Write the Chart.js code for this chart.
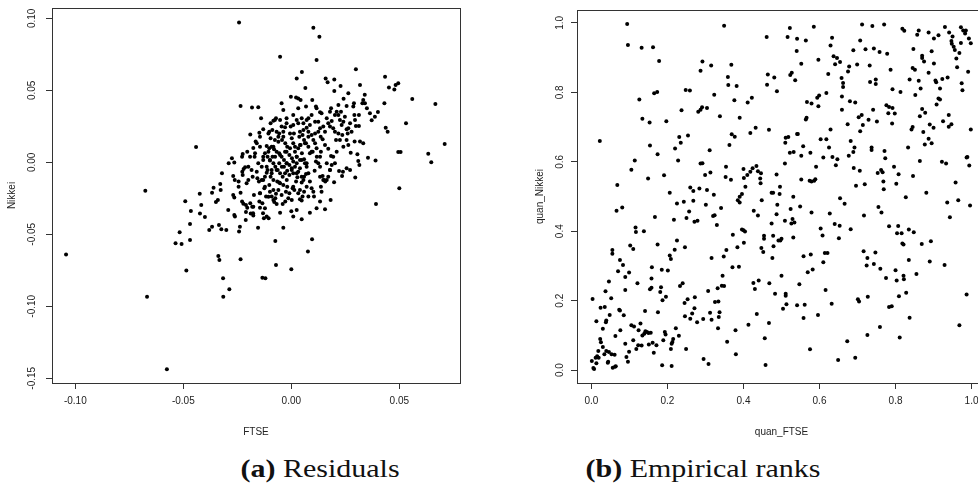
<!DOCTYPE html>
<html>
<head>
<meta charset="utf-8">
<script src="https://cdn.jsdelivr.net/npm/chart.js@4.4.1/dist/chart.umd.min.js"></script>
<style>
  html, body { margin: 0; padding: 0; background: #fff; overflow: hidden; width: 978px; height: 487px; }
  #left { position: absolute; left: 0; top: 0; width: 490px; height: 440px; }
  #right { position: absolute; left: 528px; top: 0; width: 472px; height: 440px; }
  .cap { position: absolute; top: 454px; font-family: "Liberation Serif", "Times New Roman", Times, serif; font-size: 25px; line-height: 30px;
         white-space: nowrap; color: #111; transform: translateX(-50%) scaleX(1.2); }
</style>
</head>
<body>
<div id="left"><canvas id="c1"></canvas></div>
<div id="right"><canvas id="c2"></canvas></div>
<div class="cap" style="left:320px"><b>(a)</b> Residuals</div>
<div class="cap" style="left:703px"><b>(b)</b> Empirical ranks</div>
<script>
// residuals: [FTSE, Nikkei]
const residuals = [
  [-0.0242,0.0972],[0.0102,0.0935],[0.0130,0.0873],[-0.0052,0.0734],[0.0117,0.0711],[0.0049,0.0627],[0.0025,0.0583],[0.0065,0.0516],[0.0159,0.0583],[0.0168,0.0556],
  [0.0199,0.0576],[0.0199,0.0495],[0.0228,0.0530],[0.0299,0.0646],[0.0318,0.0537],[0.0434,0.0595],[0.0452,0.0519],[0.0477,0.0505],[0.0483,0.0537],[0.0495,0.0549],
  [0.0560,0.0440],[0.0667,0.0405],[0.0710,0.0127],[0.0531,0.0271],[0.0437,0.0241],[0.0446,0.0213],[0.0431,0.0410],[0.0495,0.0072],[0.0506,0.0072],[0.0634,0.0060],
  [0.0648,0.0000],[0.0500,-0.0181],[0.0392,-0.0289],[0.0390,0.0012],[0.0355,0.0032],[0.0296,-0.0106],[0.0310,0.0009],[0.0315,-0.0019],[0.0306,0.0056],[0.0333,0.0132],
  [0.0318,0.0144],[0.0293,0.0144],[0.0275,0.0067],[0.0364,0.0340],[0.0372,0.0292],[0.0387,0.0317],[0.0401,0.0350],[0.0350,0.0375],[0.0341,0.0410],[0.0333,0.0433],
  [0.0329,0.0410],[0.0340,0.0470],[0.0313,0.0329],[0.0292,0.0329],[0.0299,0.0252],[0.0313,0.0252],[0.0264,0.0479],[0.0242,0.0442],[0.0290,0.0410],[0.0261,0.0201],
  [0.0256,0.0229],[0.0241,0.0282],[0.0230,0.0352],[0.0236,0.0190],[0.0225,0.0155],[0.0207,0.0155],[0.0218,0.0329],[0.0202,0.0329],[0.0184,0.0375],[0.0187,0.0287],
  [0.0179,0.0248],[0.0221,-0.0060],[0.0239,-0.0065],[0.0235,-0.0095],[0.0198,-0.0139],[0.0182,-0.0262],[0.0156,-0.0326],[0.0140,-0.0204],[0.0137,-0.0169],[0.0117,-0.0319],
  [0.0086,-0.0350],[0.0096,-0.0535],[0.0077,-0.0620],[0.0048,-0.0396],[0.0000,-0.0340],[0.0000,-0.0743],[-0.0037,-0.0454],[-0.0074,-0.0546],[-0.0071,-0.0713],[-0.0120,-0.0806],
  [-0.0134,-0.0801],[-0.0154,-0.0454],[-0.0235,-0.0674],[-0.0316,-0.0806],[-0.0315,-0.0933],[-0.0287,-0.0882],[-0.0338,-0.0650],[-0.0333,-0.0678],[-0.0486,-0.0752],[-0.0536,-0.0563],
  [-0.0508,-0.0567],[-0.0517,-0.0486],[-0.0469,-0.0539],[-0.0469,-0.0428],[-0.0465,-0.0338],[-0.0491,-0.0271],[-0.0424,-0.0218],[-0.0417,-0.0296],[-0.0423,-0.0356],[-0.0400,-0.0380],
  [-0.0380,-0.0470],[-0.0367,-0.0447],[-0.0367,-0.0211],[-0.0360,-0.0176],[-0.0349,-0.0275],[-0.0340,-0.0262],[-0.0327,-0.0192],[-0.0329,-0.0150],[-0.0335,-0.0435],[-0.0324,-0.0465],
  [-0.0301,-0.0470],[-0.0321,-0.0076],[-0.0292,-0.0331],[-0.0290,-0.0007],[-0.0275,0.0028],[-0.0264,-0.0002],[-0.0269,-0.0095],[-0.0262,-0.0123],[-0.0269,-0.0227],[-0.0264,-0.0245],
  [-0.0264,-0.0366],[-0.0261,-0.0377],[-0.0242,-0.0481],[-0.0238,-0.0447],[-0.0244,-0.0134],[-0.0244,-0.0169],[-0.0225,0.0058],[-0.0228,0.0039],[-0.0235,0.0391],[-0.0227,-0.0065],
  [-0.0221,-0.0046],[-0.0214,-0.0035],[-0.0207,-0.0146],[-0.0235,-0.0211],[-0.0228,-0.0273],[-0.0222,-0.0287],[-0.0210,-0.0296],[-0.0204,-0.0315],[-0.0210,-0.0345],[-0.0211,-0.0400],
  [-0.0190,-0.0285],[-0.0188,-0.0356],[-0.0181,-0.0308],[-0.0177,-0.0354],[-0.0176,-0.0370],[-0.0173,-0.0227],[-0.0170,0.0039],[-0.0176,0.0100],[-0.0190,0.0194],[-0.0182,0.0380],
  [-0.0153,0.0382],[-0.0140,0.0306],[-0.0148,0.0206],[-0.0145,0.0178],[-0.0165,0.0144],[-0.0160,0.0132],[-0.0153,-0.0007],[-0.0160,-0.0065],[-0.0157,-0.0111],[-0.0150,-0.0134],
  [-0.0145,-0.0215],[-0.0148,-0.0273],[-0.0145,-0.0315],[-0.0134,-0.0285],[-0.0131,-0.0354],[-0.0127,-0.0389],[-0.0114,-0.0377],[-0.0122,-0.0319],[-0.0117,-0.0238],[-0.0125,-0.0181],
  [-0.0130,-0.0123],[-0.0122,-0.0100],[-0.0114,-0.0072],[-0.0110,-0.0053],[-0.0105,-0.0389],[-0.0102,-0.0157],[-0.0099,-0.0204],[-0.0091,-0.0238],[-0.0083,-0.0262],[-0.0079,-0.0275],
  [-0.0074,-0.0250],[-0.0068,-0.0289],[-0.0071,-0.0218],[-0.0065,-0.0134],[-0.0056,-0.0141],[-0.0052,-0.0350],[-0.0040,-0.0289],[-0.0028,-0.0273],[-0.0014,-0.0250],[0.0002,-0.0262],
  [-0.0009,-0.0215],[0.0006,-0.0181],[0.0014,-0.0192],[0.0022,-0.0134],[0.0028,-0.0104],[0.0032,-0.0215],[0.0040,-0.0257],[0.0048,-0.0266],[0.0052,-0.0238],[0.0059,-0.0204],
  [0.0048,-0.0141],[0.0059,-0.0100],[0.0068,-0.0081],[0.0079,-0.0076],[0.0086,-0.0134],[0.0094,-0.0181],[0.0102,-0.0204],[0.0108,-0.0058],[0.0114,0.0005],[0.0125,-0.0007],
  [0.0133,0.0039],[0.0137,0.0074],[0.0133,-0.0030],[0.0145,-0.0095],[0.0151,-0.0123],[0.0157,-0.0134],[0.0164,-0.0123],[0.0171,-0.0100],[0.0179,-0.0053],[0.0184,0.0044],
  [0.0171,0.0095],[0.0156,0.0120],[0.0145,0.0160],[0.0136,0.0178],[0.0133,0.0236],[0.0125,0.0282],[0.0117,0.0375],[0.0114,0.0387],[0.0133,0.0347],[0.0140,0.0340],
  [0.0097,0.0433],[0.0094,0.0329],[0.0079,0.0306],[0.0068,0.0387],[0.0043,0.0433],[0.0032,0.0444],[0.0022,0.0451],[-0.0002,0.0456],[0.0032,0.0375],[0.0048,0.0306],
  [0.0056,0.0271],[0.0071,0.0241],[0.0086,0.0259],[0.0079,0.0213],[0.0094,0.0190],[0.0102,0.0155],[0.0110,0.0132],[0.0117,0.0097],[0.0099,0.0074],[0.0086,0.0063],
  [0.0079,0.0109],[0.0068,0.0132],[0.0059,0.0155],[0.0052,0.0190],[0.0040,0.0213],[0.0037,0.0178],[0.0043,0.0120],[0.0032,0.0097],[0.0049,0.0063],[0.0059,0.0021],
  [0.0063,-0.0007],[0.0071,-0.0030],[0.0040,0.0016],[0.0025,0.0039],[0.0017,0.0074],[0.0009,0.0132],[0.0002,0.0167],[-0.0006,0.0201],[-0.0003,0.0248],[0.0009,0.0259],
  [-0.0029,0.0243],[-0.0037,0.0213],[-0.0045,0.0248],[-0.0052,0.0294],[-0.0071,0.0306],[-0.0083,0.0289],[-0.0096,0.0271],[-0.0102,0.0213],[-0.0106,0.0201],[-0.0096,0.0167],
  [-0.0076,0.0155],[-0.0060,0.0178],[-0.0043,0.0155],[-0.0028,0.0132],[-0.0019,0.0109],[-0.0022,0.0074],[-0.0009,0.0051],[0.0003,0.0028],[0.0009,0.0005],[0.0017,-0.0030],
  [0.0002,-0.0042],[-0.0009,-0.0019],[-0.0022,-0.0007],[-0.0034,0.0016],[-0.0045,0.0039],[-0.0056,0.0063],[-0.0068,0.0074],[-0.0080,0.0090],[-0.0091,0.0109],[-0.0102,0.0097],
  [-0.0114,0.0113],[-0.0122,0.0063],[-0.0110,0.0039],[-0.0099,0.0012],[-0.0083,-0.0007],[-0.0074,-0.0030],[-0.0063,-0.0053],[-0.0052,-0.0076],[-0.0040,-0.0100],[-0.0029,-0.0076],
  [-0.0019,-0.0058],[-0.0009,-0.0088],[0.0009,-0.0076],[0.0032,-0.0065],[0.0040,-0.0042],[0.0025,-0.0007],[-0.0087,0.0039],[-0.0130,0.0016],[-0.0137,-0.0030],[-0.0091,-0.0053],
  [-0.0096,-0.0100],[-0.0083,-0.0123],[-0.0037,-0.0157],[-0.0019,-0.0169],[-0.0025,-0.0204],[-0.0045,-0.0227],[-0.0060,-0.0192],[-0.0034,-0.0030],[-0.0056,-0.0007],[0.0133,-0.0273],
  [0.0105,-0.0238],[0.0079,-0.0238],[0.0025,-0.0331],[0.0009,-0.0377],[0.0056,-0.0123],[0.0110,0.0201],[0.0125,0.0213],[0.0148,0.0248],[0.0171,0.0271],[0.0194,0.0236],
  [0.0202,0.0213],[0.0218,0.0201],[0.0225,0.0294],[0.0248,0.0317],[0.0272,0.0271],[0.0256,0.0155],[0.0264,0.0120],[0.0241,0.0109],[0.0210,0.0074],[0.0194,0.0039],
  [0.0202,-0.0007],[0.0187,-0.0019],[0.0256,-0.0042],[0.0272,-0.0053],[0.0110,0.0282],[0.0156,0.0213],[0.0164,0.0306],[0.0179,0.0352],[0.0210,0.0352],[0.0218,0.0398],
  [0.0256,0.0391],[0.0287,0.0387],[0.0295,0.0294],[0.0264,0.0236],[0.0279,0.0213],[0.0233,0.0259],[0.0012,0.0201],[0.0025,0.0294],[0.0009,0.0329],[-0.0022,0.0306],
  [-0.0022,0.0271],[-0.0037,0.0363],[-0.0045,0.0410],[-0.0076,0.0294],[-0.0088,0.0225],[-0.0068,0.0213],[-0.0056,0.0201],[-0.0130,0.0229],[-0.0145,0.0109],[-0.0168,0.0063],
  [-0.0191,0.0039],[-0.0204,0.0074],[-0.0184,-0.0053],[-0.0179,-0.0100],[-0.0199,-0.0123],[-0.0225,-0.0088],[-0.0199,-0.0030],
  [-0.0099,0.0016],[-0.0075,0.0039],[-0.0052,0.0051],[-0.0029,0.0074],[-0.0006,0.0097],[0.0017,0.0108],[0.0040,0.0120],[0.0063,0.0132],[0.0025,0.0039],[0.0048,0.0016],
  [0.0071,-0.0007],[-0.0021,-0.0007],[-0.0044,-0.0030],[-0.0068,-0.0053],[-0.0091,-0.0076],[-0.0114,-0.0030],[0.0002,-0.0053],[0.0025,-0.0076],[0.0048,-0.0100],[-0.0021,-0.0123],
  [-0.0052,-0.0146],[-0.0083,-0.0192],[-0.0106,-0.0239],[0.0094,0.0074],[0.0118,0.0039],[0.0079,0.0178],[0.0056,0.0224],[0.0032,0.0271],[0.0071,0.0294],[-0.0037,0.0178],
  [-0.0060,0.0143],[-0.0083,0.0108],[-0.0106,0.0074],[-0.0130,0.0039],[-0.0137,-0.0123],[-0.0122,-0.0169],[-0.0145,-0.0215],[-0.0176,-0.0308],[0.0133,-0.0100],[0.0148,-0.0123],
  [0.0164,-0.0007],[0.0179,-0.0053],[0.0009,-0.0169],[0.0040,-0.0192],[0.0071,-0.0169],
  [-0.1043,-0.0641],[-0.0676,-0.0197],[-0.0668,-0.0933],[-0.0576,-0.1438],[-0.0441,0.0106]
];

// empirical ranks: [quan_FTSE, quan_Nikkei]
const ranks = [
  [0.094,0.997],[0.096,0.936],[0.132,0.928],[0.162,0.930],[0.178,0.890],[0.126,0.779],[0.134,0.724],[0.153,0.713],[0.165,0.797],[0.173,0.801],
  [0.022,0.660],[0.349,0.992],[0.292,0.889],[0.287,0.862],[0.315,0.877],[0.248,0.807],[0.259,0.805],[0.237,0.748],[0.197,0.717],[0.291,0.757],
  [0.287,0.750],[0.281,0.744],[0.304,0.755],[0.323,0.793],[0.338,0.731],[0.359,0.844],[0.368,0.879],[0.360,0.821],[0.382,0.818],[0.376,0.777],
  [0.390,0.727],[0.369,0.679],[0.377,0.672],[0.363,0.648],[0.411,0.771],[0.422,0.784],[0.418,0.683],[0.432,0.698],[0.461,0.959],[0.522,0.985],
  [0.516,0.959],[0.541,0.954],[0.564,0.949],[0.585,0.989],[0.540,0.919],[0.552,0.882],[0.536,0.835],[0.523,0.850],[0.527,0.856],[0.464,0.851],
  [0.481,0.843],[0.462,0.822],[0.488,0.803],[0.567,0.772],[0.564,0.722],[0.566,0.727],[0.467,0.692],[0.511,0.669],[0.518,0.671],[0.543,0.680],
  [0.597,0.894],[0.594,0.784],[0.599,0.791],[0.579,0.768],[0.597,0.760],[0.618,0.798],[0.623,0.853],[0.629,0.935],[0.633,0.957],[0.637,0.904],
  [0.641,0.881],[0.646,0.899],[0.654,0.887],[0.658,0.841],[0.662,0.827],[0.662,0.815],[0.659,0.788],[0.675,0.860],[0.678,0.874],[0.689,0.921],
  [0.699,0.880],[0.707,0.949],[0.712,0.995],[0.721,0.924],[0.732,0.877],[0.739,0.991],[0.770,0.995],[0.743,0.926],[0.758,0.916],[0.778,0.911],
  [0.733,0.830],[0.748,0.837],[0.748,0.824],[0.680,0.774],[0.694,0.771],[0.674,0.708],[0.659,0.750],[0.703,0.728],[0.711,0.735],[0.714,0.706],
  [0.707,0.688],[0.729,0.721],[0.741,0.750],[0.751,0.716],[0.776,0.763],[0.783,0.758],[0.792,0.755],[0.781,0.740],[0.798,0.739],[0.791,0.710],
  [0.787,0.865],[0.792,0.809],[0.813,0.801],[0.818,0.983],[0.823,0.977],[0.861,0.978],[0.857,0.966],[0.887,0.972],[0.901,0.955],[0.913,0.964],
  [0.930,0.988],[0.941,0.972],[0.950,0.961],[0.947,0.948],[0.948,0.940],[0.953,0.931],[0.956,0.922],[0.968,0.913],[0.972,0.987],[0.978,0.978],
  [0.983,0.969],[0.985,0.978],[0.993,0.955],[0.998,0.941],[0.972,0.942],[0.960,0.897],[0.962,0.872],[0.991,0.859],[0.974,0.826],[0.976,0.806],
  [0.937,0.843],[0.923,0.838],[0.917,0.811],[0.917,0.779],[0.913,0.782],[0.908,0.765],[0.905,0.834],[0.907,0.829],[0.901,0.883],[0.895,0.918],
  [0.870,0.905],[0.875,0.889],[0.870,0.899],[0.847,0.925],[0.845,0.870],[0.851,0.865],[0.837,0.837],[0.861,0.833],[0.887,0.856],[0.866,0.811],
  [0.852,0.792],[0.870,0.752],[0.878,0.741],[0.864,0.731],[0.925,0.717],[0.940,0.701],[0.947,0.708],[0.940,0.735],[0.900,0.698],[0.887,0.666],
  [0.877,0.650],[0.873,0.686],[0.845,0.700],[0.842,0.693],[0.895,0.653],[0.833,0.641],[0.864,0.602],[0.846,0.559],[0.881,0.511],[0.827,0.498],
  [0.808,0.564],[0.796,0.586],[0.802,0.537],[0.773,0.610],[0.771,0.631],[0.762,0.576],[0.753,0.568],[0.766,0.570],[0.768,0.543],[0.769,0.521],
  [0.737,0.641],[0.737,0.634],[0.755,0.470],[0.763,0.454],[0.719,0.535],[0.717,0.445],[0.706,0.574],[0.690,0.582],[0.696,0.531],[0.689,0.628],
  [0.692,0.641],[0.682,0.660],[0.677,0.617],[0.666,0.479],[0.654,0.495],[0.647,0.607],[0.643,0.590],[0.653,0.416],[0.651,0.380],[0.640,0.421],
  [0.627,0.451],[0.634,0.614],[0.625,0.641],[0.618,0.665],[0.603,0.665],[0.610,0.612],[0.629,0.693],[0.682,0.406],[0.603,0.408],[0.608,0.388],
  [0.614,0.337],[0.621,0.337],[0.610,0.311],[0.616,0.231],[0.632,0.191],[0.596,0.159],[0.586,0.545],[0.589,0.550],[0.591,0.586],[0.579,0.543],
  [0.576,0.626],[0.574,0.545],[0.579,0.454],[0.557,0.645],[0.552,0.617],[0.552,0.549],[0.549,0.471],[0.541,0.680],[0.532,0.628],[0.522,0.626],
  [0.531,0.499],[0.524,0.464],[0.529,0.435],[0.534,0.425],[0.526,0.422],[0.531,0.382],[0.509,0.430],[0.496,0.528],[0.495,0.507],[0.509,0.595],
  [0.510,0.655],[0.487,0.563],[0.474,0.511],[0.478,0.511],[0.474,0.422],[0.487,0.449],[0.489,0.476],[0.500,0.378],[0.492,0.373],[0.497,0.373],
  [0.478,0.387],[0.479,0.357],[0.476,0.323],[0.500,0.272],[0.454,0.387],[0.454,0.378],[0.447,0.352],[0.452,0.340],[0.448,0.489],[0.438,0.445],
  [0.445,0.538],[0.444,0.552],[0.446,0.567],[0.434,0.588],[0.438,0.573],[0.427,0.459],[0.424,0.581],[0.418,0.571],[0.410,0.562],[0.401,0.553],
  [0.405,0.528],[0.400,0.579],[0.396,0.507],[0.390,0.499],[0.385,0.489],[0.390,0.483],[0.400,0.403],[0.396,0.405],[0.404,0.399],[0.401,0.367],
  [0.384,0.354],[0.388,0.298],[0.371,0.296],[0.372,0.390],[0.367,0.548],[0.354,0.586],[0.353,0.556],[0.348,0.327],[0.355,0.346],[0.345,0.272],
  [0.349,0.242],[0.343,0.243],[0.332,0.236],[0.341,0.467],[0.322,0.505],[0.324,0.446],[0.320,0.444],[0.330,0.418],[0.316,0.323],[0.313,0.569],
  [0.304,0.519],[0.301,0.476],[0.299,0.562],[0.311,0.633],[0.292,0.596],[0.287,0.595],[0.284,0.523],[0.271,0.427],[0.279,0.430],[0.268,0.488],
  [0.268,0.516],[0.260,0.526],[0.257,0.457],[0.250,0.438],[0.254,0.676],[0.235,0.655],[0.231,0.671],[0.220,0.638],[0.228,0.604],[0.225,0.480],
  [0.243,0.485],[0.217,0.433],[0.225,0.373],[0.219,0.347],[0.206,0.511],[0.191,0.561],[0.206,0.330],[0.209,0.320],[0.201,0.287],[0.185,0.289],
  [0.246,0.354],[0.149,0.552],[0.154,0.647],[0.174,0.622],[0.167,0.441],[0.174,0.362],[0.159,0.296],[0.114,0.604],[0.105,0.577],[0.116,0.411],
  [0.117,0.398],[0.138,0.400],[0.102,0.359],[0.110,0.349],[0.081,0.468],[0.066,0.459],[0.068,0.533],[0.055,0.346],[0.055,0.335],[0.075,0.317],
  [0.083,0.303],[0.070,0.285],[0.089,0.268],[0.099,0.281],[0.121,0.250],[0.158,0.264],[0.154,0.233],[0.158,0.237],[0.175,0.167],[0.181,0.225],
  [0.183,0.239],[0.187,0.201],[0.196,0.211],[0.193,0.110],[0.195,0.103],[0.189,0.086],[0.186,0.014],[0.211,0.012],[0.209,0.061],[0.211,0.076],
  [0.213,0.081],[0.215,0.090],[0.222,0.121],[0.230,0.099],[0.233,0.242],[0.240,0.250],[0.245,0.193],[0.246,0.155],[0.249,0.061],[0.253,0.204],
  [0.260,0.148],[0.265,0.163],[0.271,0.178],[0.272,0.210],[0.278,0.138],[0.294,0.147],[0.295,0.032],[0.308,0.018],[0.307,0.228],[0.312,0.165],
  [0.316,0.145],[0.325,0.196],[0.334,0.198],[0.335,0.153],[0.333,0.121],[0.337,0.167],[0.357,0.082],[0.379,0.115],[0.380,0.046],[0.413,0.131],
  [0.435,0.162],[0.426,0.251],[0.430,0.234],[0.440,0.258],[0.468,0.250],[0.467,0.136],[0.456,0.092],[0.458,0.015],[0.483,0.220],[0.511,0.220],
  [0.511,0.214],[0.513,0.190],[0.504,0.177],[0.541,0.187],[0.547,0.247],[0.561,0.188],[0.558,0.150],[0.575,0.060],[0.558,0.328],[0.577,0.333],
  [0.569,0.282],[0.582,0.290],[0.649,0.029],[0.673,0.083],[0.694,0.036],[0.701,0.204],[0.704,0.198],[0.716,0.342],[0.726,0.323],[0.724,0.301],
  [0.727,0.211],[0.726,0.101],[0.743,0.306],[0.747,0.339],[0.760,0.292],[0.759,0.124],[0.775,0.265],[0.783,0.182],[0.790,0.184],[0.783,0.414],
  [0.800,0.288],[0.803,0.258],[0.809,0.213],[0.811,0.094],[0.807,0.415],[0.804,0.394],[0.816,0.394],[0.818,0.365],[0.821,0.362],[0.821,0.272],
  [0.822,0.262],[0.828,0.223],[0.835,0.405],[0.835,0.317],[0.837,0.151],[0.848,0.397],[0.855,0.277],[0.869,0.363],[0.893,0.371],[0.890,0.313],
  [0.929,0.303],[0.936,0.483],[0.943,0.440],[0.958,0.540],[0.965,0.489],[0.987,0.612],[0.989,0.614],[0.994,0.589],[0.996,0.474],[0.987,0.218],
  [0.968,0.129],[0.998,0.693],[0.922,0.600],[0.933,0.595],[0.890,0.707],
  [0.003,0.205],[0.013,0.141],[0.024,0.180],[0.035,0.182],[0.037,0.227],[0.046,0.255],[0.052,0.207],[0.048,0.159],[0.039,0.143],[0.038,0.138],
  [0.030,0.119],[0.023,0.090],[0.025,0.080],[0.018,0.055],[0.030,0.067],[0.034,0.046],[0.039,0.055],[0.046,0.052],[0.053,0.046],[0.061,0.044],
  [0.063,0.098],[0.044,0.024],[0.043,0.021],[0.056,0.007],[0.062,0.010],[0.064,0.011],[0.005,0.006],[0.007,0.003],[0.001,0.026],[0.011,0.036],
  [0.015,0.040],[0.019,0.036],[0.013,0.020],[0.076,0.115],[0.075,0.172],[0.073,0.174],[0.085,0.158],[0.089,0.231],[0.089,0.076],[0.092,0.038],
  [0.096,0.024],[0.099,0.053],[0.105,0.129],[0.112,0.126],[0.110,0.086],[0.118,0.061],[0.123,0.072],[0.124,0.115],[0.129,0.134],[0.132,0.071],
  [0.134,0.100],[0.139,0.105],[0.142,0.112],[0.146,0.110],[0.150,0.107],[0.156,0.108],[0.141,0.170],[0.151,0.074],[0.161,0.079],[0.164,0.050],
  [0.171,0.072]
];

const resXTicks = [-0.10, -0.05, 0.00, 0.05];
const resYTicks = [-0.15, -0.10, -0.05, 0.00, 0.05, 0.10];
const rankTicks = [0.0, 0.2, 0.4, 0.6, 0.8, 1.0];

const INK = '#333';
const TXT = '#222';
const font = { family: 'Liberation Sans, Arimo, Arial, Helvetica, sans-serif', size: 10 };

const boxPlugin = {
  id: 'box',
  afterDraw(chart) {
    const a = chart.chartArea, ctx = chart.ctx;
    ctx.save();
    ctx.strokeStyle = INK;
    ctx.lineWidth = 1;
    ctx.strokeRect(Math.round(a.left) + 0.5, Math.round(a.top) + 0.5,
                   Math.round(a.right - a.left), Math.round(a.bottom - a.top));
    ctx.restore();
  }
};

function scatter(id, pts, o) {
  new Chart(document.getElementById(id), {
    type: 'scatter',
    data: {
      datasets: [{
        data: pts.map(p => ({ x: p[0], y: p[1] })),
        pointRadius: 2,
        pointBackgroundColor: '#000',
        pointBorderWidth: 0
      }]
    },
    options: {
      responsive: true,
      maintainAspectRatio: false,
      animation: false,
      layout: { padding: { top: 8, right: o.padRight, left: 0, bottom: 0 } },
      plugins: { legend: { display: false }, tooltip: { enabled: false } },
      scales: {
        x: {
          type: 'linear', min: o.xr[0], max: o.xr[1],
          afterBuildTicks: s => { s.ticks = o.xt.map(v => ({ value: v })); },
          afterFit: s => { s.height = 57; },
          grid: { drawOnChartArea: false, drawTicks: true, tickLength: 6, color: INK },
          border: { display: false },
          ticks: { font, color: TXT, padding: 6, autoSkip: false, maxRotation: 0,
                   callback: v => Number(v).toFixed(o.dec) },
          title: { display: true, text: o.xTitle, font, color: TXT, padding: { top: 0, bottom: 2 } }
        },
        y: {
          type: 'linear', min: o.yr[0], max: o.yr[1],
          afterBuildTicks: s => { s.ticks = o.yt.map(v => ({ value: v })); },
          afterFit: s => { s.width = o.yWidth; },
          grid: { drawOnChartArea: false, drawTicks: true, tickLength: 6, color: INK },
          border: { display: false },
          ticks: { font, color: TXT, padding: o.yPad, autoSkip: false, minRotation: 90, maxRotation: 90,
                   crossAlign: 'center', callback: v => Number(v).toFixed(o.dec) },
          title: { display: true, text: o.yTitle, font, color: TXT, padding: { top: 6, bottom: 0 } }
        }
      }
    },
    plugins: [boxPlugin]
  });
}

scatter('c1', residuals, {
  xr: [-0.1108, 0.0781], yr: [-0.1533, 0.1072], xt: resXTicks, yt: resYTicks,
  xTitle: 'FTSE', yTitle: 'Nikkei', yWidth: 52, padRight: 30, yPad: 2, dec: 2
});
scatter('c2', ranks, {
  xr: [-0.038, 1.038], yr: [-0.037, 1.037], xt: rankTicks, yt: rankTicks,
  xTitle: 'quan_FTSE', yTitle: 'quan_Nikkei', yWidth: 49, padRight: 14, yPad: 4, dec: 1
});
</script>
</body>
</html>
